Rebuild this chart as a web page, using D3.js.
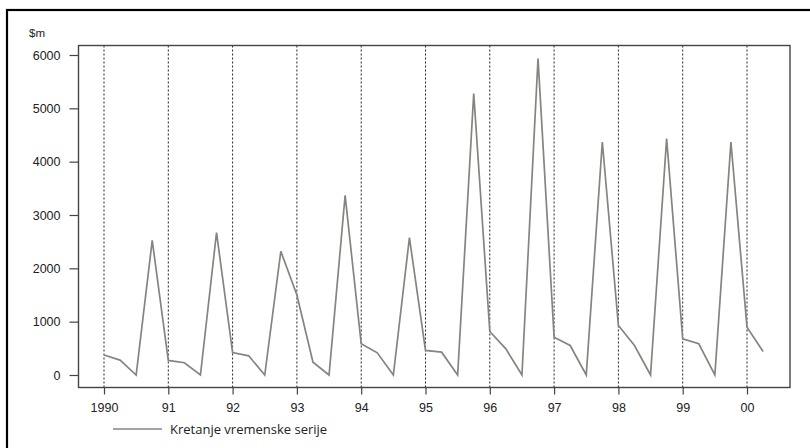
<!DOCTYPE html>
<html>
<head>
<meta charset="utf-8">
<script src="https://cdn.jsdelivr.net/npm/d3@7"></script>
<style>
  html, body { margin: 0; padding: 0; background: #fff; }
  svg { display: block; }
</style>
</head>
<body>
<svg id="chart" width="810" height="448"></svg>
<script>
// ---- data ----
const years = [1990, 1991, 1992, 1993, 1994, 1995, 1996, 1997, 1998, 1999, 2000];
const yearLabels = ["1990", "91", "92", "93", "94", "95", "96", "97", "98", "99", "00"];
const quarters = ["Q1", "Q2", "Q3", "Q4"];
const values = [
  374, 280, 0, 2523,
  273, 230, 0, 2670,
  420, 360, 0, 2320,
  1500, 240, 0, 3368,
  585, 416, 0, 2574,
  460, 428, 0, 5276,
  816, 490, 0, 5932,
  710, 553, 0, 4368,
  929, 553, 0, 4432,
  679, 585, 0, 4368,
  897, 441
];
const yTicks = [0, 1000, 2000, 3000, 4000, 5000, 6000];
const unitLabel = "$m";
const legendLabel = "Kretanje vremenske serije";

// ---- layout ----
const svg = d3.select("#chart");
const box = { left: 78.5, top: 45.5, right: 790, bottom: 387.5 };

const x = d3.scaleLinear().domain([1990, 2000]).range([104, 747]);
const y = d3.scaleLinear().domain([0, 6000]).range([375, 55]);

const points = values.map((v, i) => ({ t: years[0] + i / 4, v }));

// outer frame
svg.append("rect")
  .attr("x", 7).attr("y", 10)
  .attr("width", 820).attr("height", 460)
  .attr("fill", "none").attr("stroke", "#000").attr("stroke-width", 2.2);

// vertical dotted year lines
svg.append("g").selectAll("line")
  .data(years)
  .join("line")
  .attr("x1", d => x(d)).attr("x2", d => x(d))
  .attr("y1", box.top).attr("y2", box.bottom)
  .attr("stroke", "#222").attr("stroke-width", 1)
  .attr("stroke-dasharray", "2,2");

// series line
svg.append("path")
  .datum(points)
  .attr("fill", "none")
  .attr("stroke", "#85857f")
  .attr("stroke-width", 1.7)
  .attr("stroke-linejoin", "miter")
  .attr("d", d3.line().x(d => x(d.t)).y(d => y(d.v)));

// plot box
svg.append("rect")
  .attr("x", box.left).attr("y", box.top)
  .attr("width", box.right - box.left).attr("height", box.bottom - box.top)
  .attr("fill", "none").attr("stroke", "#444").attr("stroke-width", 1.4);

// y axis
const yAxis = d3.axisLeft(y).tickValues(yTicks).tickSize(9).tickPadding(9).tickFormat(d3.format("d"));
const gy = svg.append("g").attr("transform", `translate(${box.left},0)`).call(yAxis);
gy.select(".domain").remove();
gy.selectAll(".tick line").attr("stroke", "#444").attr("stroke-width", 1.2);
gy.selectAll(".tick text")
  .attr("font-family", "'Liberation Sans', Arial, sans-serif")
  .attr("font-size", 12.5).attr("fill", "#222");

// x axis
const xAxis = d3.axisBottom(x).tickValues(years).tickSize(7).tickPadding(9)
  .tickFormat((d, i) => yearLabels[i]);
const gx = svg.append("g").attr("transform", `translate(0,${box.bottom})`).call(xAxis);
gx.select(".domain").remove();
gx.selectAll(".tick line").attr("stroke", "#444").attr("stroke-width", 1.2);
gx.selectAll(".tick text")
  .attr("font-family", "'Liberation Sans', Arial, sans-serif")
  .attr("font-size", 12.5).attr("fill", "#222");

// unit label
svg.append("text")
  .attr("x", 29).attr("y", 37)
  .attr("font-family", "'Liberation Sans', Arial, sans-serif")
  .attr("font-size", 11.5).attr("fill", "#222")
  .text(unitLabel);

// legend
svg.append("line")
  .attr("x1", 113).attr("x2", 162).attr("y1", 429).attr("y2", 429)
  .attr("stroke", "#85857f").attr("stroke-width", 1.4);
svg.append("text")
  .attr("x", 170).attr("y", 434)
  .attr("font-family", "'Open Sans', Lato, sans-serif")
  .attr("font-size", 13).attr("fill", "#222")
  .text(legendLabel);
</script>
</body>
</html>
